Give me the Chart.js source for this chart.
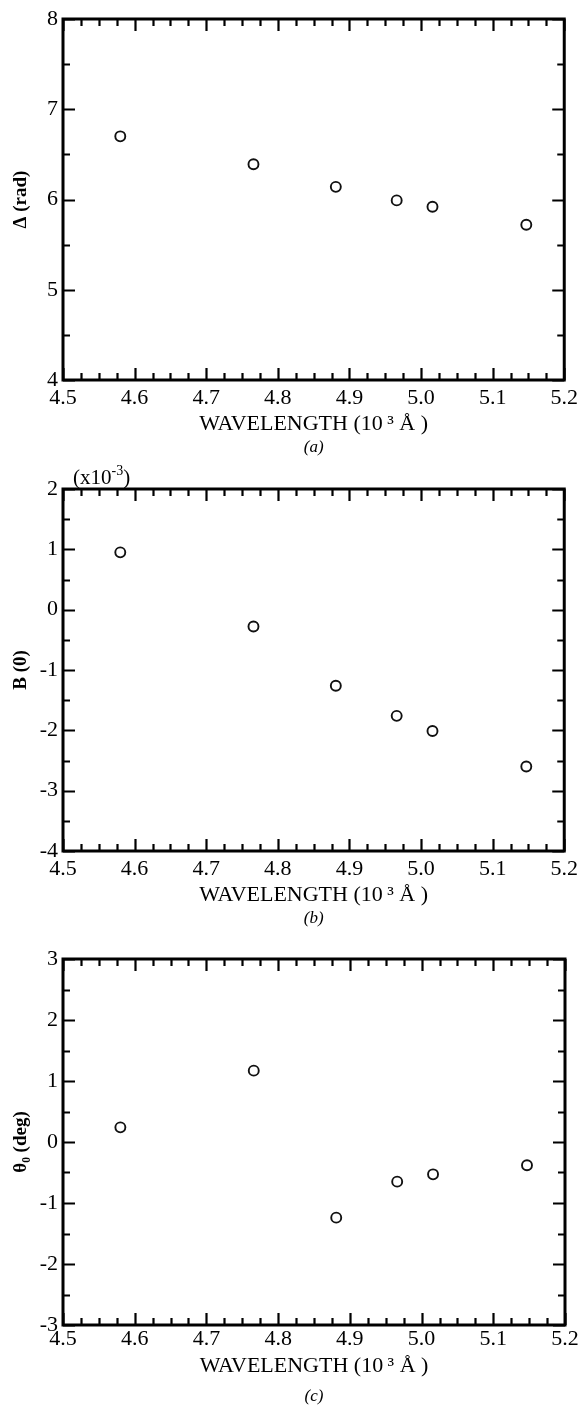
<!DOCTYPE html>
<html>
<head>
<meta charset="utf-8">
<script src="https://cdn.jsdelivr.net/npm/chart.js@4/dist/chart.umd.min.js"></script>
<style>
  html, body { margin: 0; padding: 0; background: #fff; }
  body { width: 583px; height: 1407px; position: relative; overflow: hidden; }
  canvas { position: absolute; left: 0; }
</style>
</head>
<body>
<canvas id="chartA" width="583" height="470" style="top:0px"></canvas>
<canvas id="chartB" width="583" height="490" style="top:450px"></canvas>
<canvas id="chartC" width="583" height="467" style="top:940px"></canvas>
<script>
// Data
const wavelength = [4.58, 4.766, 4.881, 4.966, 5.016, 5.147];   // 10^3 Angstrom
const deltaRad = [6.70, 6.39, 6.14, 5.99, 5.92, 5.72];           // (a) Delta (rad)
const bZero = [0.95, -0.28, -1.26, -1.76, -2.01, -2.60];         // (b) B(0), x10^-3
const thetaZero = [0.24, 1.17, -1.24, -0.65, -0.53, -0.38];      // (c) theta_0 (deg)

const xTitle = 'WAVELENGTH (10\u2009\u00B3 \u00C5 )';
const serif = '"Liberation Serif", "DejaVu Serif", serif';

// Frame with inward major/minor ticks on all four sides, plus captions
const framePlugin = {
  id: 'frame',
  afterDraw(chart, args, opts) {
    const { ctx, chartArea: a, scales: { x, y } } = chart;
    ctx.save();
    ctx.strokeStyle = '#000';
    ctx.lineCap = 'butt';
    ctx.lineWidth = 2.2;
    ctx.beginPath();
    // x ticks every 0.025, major every 0.1
    for (let i = 0; i <= 28; i++) {
      const px = Math.round(x.getPixelForValue(4.5 + i * 0.025)) + 0.5;
      const len = i % 4 === 0 ? 12 : 7;
      ctx.moveTo(px, a.bottom); ctx.lineTo(px, a.bottom - len);
      ctx.moveTo(px, a.top); ctx.lineTo(px, a.top + len);
    }
    // y ticks every 0.5, major every 1
    const n = Math.round((y.max - y.min) * 2);
    for (let i = 0; i <= n; i++) {
      const py = Math.round(y.getPixelForValue(y.min + i * 0.5)) + 0.5;
      const len = i % 2 === 0 ? 12 : 7;
      ctx.moveTo(a.left, py); ctx.lineTo(a.left + len, py);
      ctx.moveTo(a.right, py); ctx.lineTo(a.right - len, py);
    }
    ctx.stroke();
    ctx.lineWidth = 3;
    ctx.strokeRect(a.left, a.top, a.right - a.left, a.bottom - a.top);

    ctx.fillStyle = '#000';
    ctx.textAlign = 'center';
    ctx.textBaseline = 'middle';
    ctx.font = 'italic 17px ' + serif;
    ctx.fillText(opts.caption, (a.left + a.right) / 2, a.bottom + opts.captionOffset);

    if (opts.scaleNote) {
      ctx.textAlign = 'left';
      ctx.textBaseline = 'alphabetic';
      ctx.font = '21px ' + serif;
      let tx = a.left + 10;
      const ty = a.top - 5;
      ctx.fillText('(x10', tx, ty);
      tx += ctx.measureText('(x10').width;
      ctx.font = '14px ' + serif;
      ctx.fillText('-3', tx, ty - 9);
      tx += ctx.measureText('-3').width;
      ctx.font = '21px ' + serif;
      ctx.fillText(')', tx, ty);
    }
    ctx.restore();
  }
};

function makePanel(id, values, yMin, yMax, yLabel, padTop, xScaleHeight, xTickPad, padBottom, caption, captionOffset, scaleNote) {
  const ctx = document.getElementById(id).getContext('2d');
  return new Chart(ctx, {
    type: 'scatter',
    data: {
      datasets: [{
        data: wavelength.map((w, i) => ({ x: w, y: values[i] })),
        pointStyle: 'circle',
        pointRadius: 5,
        pointHoverRadius: 5,
        pointBorderWidth: 1.9,
        borderColor: '#111',
        backgroundColor: 'rgba(255,255,255,0)'
      }]
    },
    options: {
      responsive: false,
      animation: false,
      devicePixelRatio: 1,
      layout: { padding: { top: padTop, right: 18, bottom: padBottom, left: 0 } },
      plugins: {
        legend: { display: false },
        tooltip: { enabled: false },
        frame: { caption: caption, captionOffset: captionOffset, scaleNote: scaleNote }
      },
      scales: {
        x: {
          type: 'linear',
          min: 4.5,
          max: 5.2,
          grid: { display: false, drawTicks: false },
          border: { display: false },
          ticks: {
            stepSize: 0.1,
            padding: xTickPad,
            color: '#000',
            font: { family: serif, size: 22 },
            maxRotation: 0,
            callback: v => Number(v).toFixed(1)
          },
          title: {
            display: true,
            text: xTitle,
            color: '#000',
            padding: 0,
            font: { family: serif, size: 22 }
          },
          afterFit: s => { s.height = xScaleHeight; }
        },
        y: {
          type: 'linear',
          min: yMin,
          max: yMax,
          grid: { display: false, drawTicks: false },
          border: { display: false },
          ticks: {
            stepSize: 1,
            padding: 5,
            color: '#000',
            font: { family: serif, size: 22 }
          },
          title: {
            display: true,
            text: yLabel,
            color: '#000',
            padding: { top: 10, bottom: 0 },
            font: { family: serif, size: 19, weight: 'bold' }
          },
          afterFit: s => { s.width = 63; }
        }
      }
    },
    plugins: [framePlugin]
  });
}

// panel (a): area 19..380 in a 470 tall canvas
makePanel('chartA', deltaRad, 4, 8, '\u0394 (rad)', 19, 57, 5, 470 - 380 - 57, '(a)', 68, false);
// panel (b): area 489..851 on page -> 39..401 in canvas starting at 450
makePanel('chartB', bZero, -4, 2, 'B (0)', 39, 57, 5, 490 - 401 - 57, '(b)', 68, true);
// panel (c): area 959..1325 on page -> 19..385 in canvas
makePanel('chartC', thetaZero, -3, 3, '\u03B8\u2080 (deg)', 19, 54, 1, 467 - 385 - 54, '(c)', 72, false);
</script>
</body>
</html>
